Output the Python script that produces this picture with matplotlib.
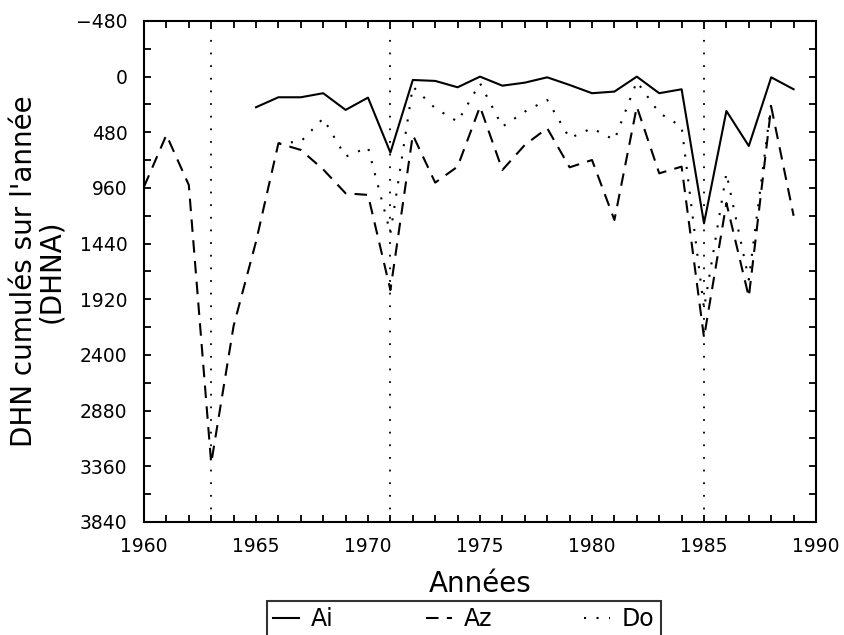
import numpy as np
import matplotlib
matplotlib.use("Agg")
import matplotlib.pyplot as plt
from matplotlib.ticker import MultipleLocator

# DHN cumulés par année
annees_ai = list(range(1965, 1990))
ai = [264, 178, 178, 143, 287, 181, 655, 29, 37, 92, 0, 78, 52, 6, 72,
      143, 129, 0, 143, 109, 1265, 296, 598, 6, 109]

annees_az = list(range(1960, 1990))
az = [950, 503, 934, 3334, 2150, 1423, 575, 632, 800, 1006, 1020, 1840,
      503, 914, 776, 259, 805, 589, 445, 782, 719, 1236, 259, 834, 776,
      2250, 1090, 1900, 260, 1200]

annees_do = list(range(1966, 1989))
do = [575, 560, 360, 690, 610, 1350, 86, 273, 388, 57, 431, 302, 201, 531,
      445, 546, 43, 313, 431, 2000, 833, 1750, 230]

annees_seche = [1963, 1971, 1985]

fig = plt.figure(figsize=(8.45, 6.35), dpi=100)
ax = fig.add_axes([0.1704, 0.178, 0.7953, 0.789])

for a in annees_seche:
    ax.axvline(a, color="black", lw=1.3, dashes=(1, 6))

ax.plot(annees_ai, ai, color="black", lw=1.5, label="Ai")
ax.plot(annees_az, az, color="black", lw=1.5, dashes=(6, 4), label="Az")
ax.plot(annees_do, do, color="black", lw=1.5, dashes=(1, 5), label="Do")

ax.set_xlim(1960, 1990)
ax.set_ylim(3840, -480)
ax.xaxis.set_major_locator(MultipleLocator(5))
ax.xaxis.set_minor_locator(MultipleLocator(1))
ax.yaxis.set_major_locator(MultipleLocator(480))
ax.yaxis.set_minor_locator(MultipleLocator(240))
ax.tick_params(which="both", direction="in", top=True, right=True,
               length=5, width=1.3, labelsize=13.5)
ax.tick_params(axis="x", pad=11)
ax.tick_params(axis="y", pad=12)
for s in ax.spines.values():
    s.set_linewidth(1.5)

ax.set_xlabel("Années", fontsize=20, labelpad=10)
ax.set_ylabel("DHN cumulés sur l'année\n(DHNA)", fontsize=20, labelpad=8,
              linespacing=0.95)

leg = fig.legend(loc="upper center", bbox_to_anchor=(464 / 845, 1 - 601 / 635),
                 ncol=3, fontsize=17, frameon=True, fancybox=False,
                 edgecolor="black", handlelength=1.1, columnspacing=3.9,
                 borderpad=0.25, borderaxespad=0, handletextpad=0.5)
leg.get_frame().set_linewidth(1.5)

fig.savefig("out.png", dpi=100)
